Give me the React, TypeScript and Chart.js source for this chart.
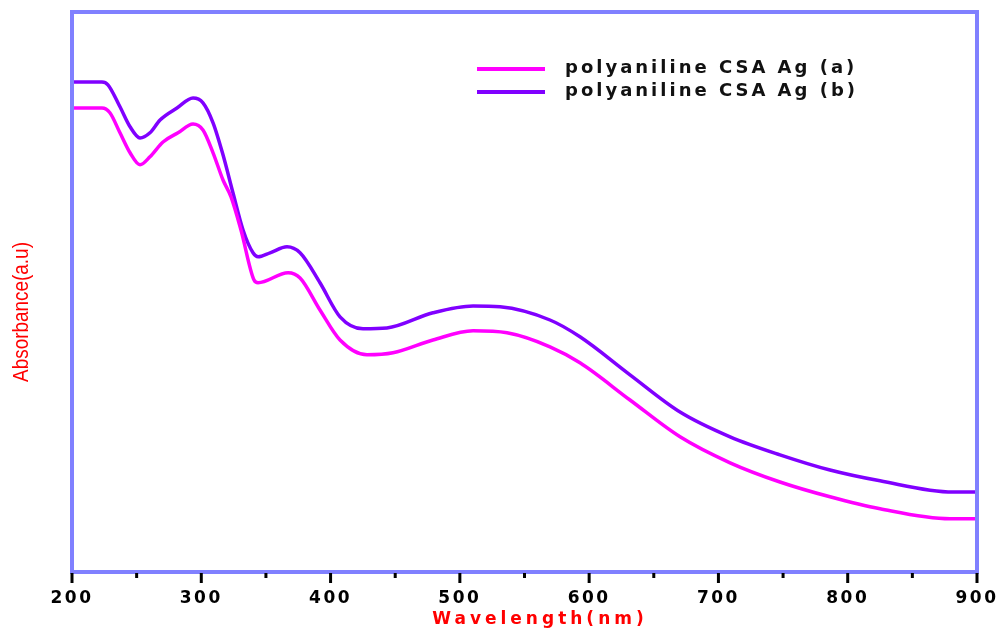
import React, { useEffect, useRef } from "react";
import { Chart, registerables } from "chart.js";

Chart.register(...registerables);

const seriesLabels = ["polyaniline CSA Ag (a)", "polyaniline CSA Ag (b)"];
const seriesColors = ["#ff00ff", "#8000ff"];

const wavelengthA = [200, 223.2, 229.3, 237.1, 244.9, 252.6, 260.3, 270.4, 282.0, 293.6, 301.3, 309.1, 316.8, 323.0, 330.7, 340.8, 343.9, 367.1, 376.4, 391.8, 407.3, 428.2, 448.3, 479.2, 510.2, 536.5, 569.7, 592.9, 631.6, 670.3, 709.0, 747.6, 786.3, 825.0, 879.1, 900];
const absorbanceA = [1.16, 1.16, 1.148, 1.098, 1.048, 1.018, 1.038, 1.075, 1.098, 1.12, 1.105, 1.048, 0.98, 0.938, 0.855, 0.73, 0.723, 0.748, 0.735, 0.655, 0.58, 0.543, 0.548, 0.58, 0.603, 0.598, 0.563, 0.523, 0.43, 0.338, 0.273, 0.225, 0.188, 0.158, 0.133, 0.133];

const wavelengthB = [200, 223.2, 227.8, 237.1, 244.9, 252.6, 260.3, 268.1, 281.2, 293.6, 301.3, 309.1, 316.8, 324.5, 332.3, 340.0, 343.9, 353.2, 366.3, 376.4, 391.8, 407.3, 425.1, 443.6, 479.2, 510.2, 531.1, 569.7, 592.9, 631.6, 670.3, 709.0, 747.6, 786.3, 825.0, 881.4, 900];
const absorbanceB = [1.225, 1.225, 1.218, 1.163, 1.113, 1.085, 1.098, 1.13, 1.16, 1.185, 1.173, 1.123, 1.043, 0.948, 0.855, 0.798, 0.788, 0.798, 0.813, 0.798, 0.723, 0.638, 0.608, 0.61, 0.648, 0.665, 0.663, 0.63, 0.588, 0.493, 0.4, 0.338, 0.293, 0.255, 0.228, 0.2, 0.2];

const xMin = 200;
const xMax = 900;
const xMajorStep = 100;
const xMinorStep = 50;
const yMin = 0;
const yMax = 1.4;

const xTitle = "Wavelength(nm)";
const yTitle = "Absorbance(a.u)";

const zip = (xs: number[], ys: number[]) => xs.map((x, i) => ({ x, y: ys[i] }));

const FRAME = "#8080ff";
const BOLD = "'DejaVu Sans', sans-serif";

const decorPlugin = {
  id: "decor",
  beforeDraw(chart: any) {
    (chart.ctx as any).letterSpacing = "2.5px";
  },
  afterDatasetsDraw(chart: any) {
    const ctx = chart.ctx;
    const a = chart.chartArea;
    const xs = chart.scales.x;
    ctx.save();
    ctx.strokeStyle = FRAME;
    ctx.lineWidth = 4;
    ctx.strokeRect(a.left, a.top, a.right - a.left, a.bottom - a.top);
    ctx.strokeStyle = "#000";
    ctx.lineWidth = 3;
    for (let v = xMin; v <= xMax; v += xMinorStep) {
      const px = xs.getPixelForValue(v);
      const major = v % xMajorStep === 0;
      ctx.beginPath();
      ctx.moveTo(px, a.bottom + 1);
      ctx.lineTo(px, a.bottom + (major ? 11 : 6));
      ctx.stroke();
    }
    ctx.restore();
  },
  afterDraw(chart: any) {
    const ctx = chart.ctx;
    ctx.save();
    (ctx as any).letterSpacing = "4px";
    ctx.fillStyle = "#ff0000";
    ctx.font = `bold 17px ${BOLD}`;
    ctx.textAlign = "center";
    ctx.textBaseline = "middle";
    ctx.fillText(xTitle, 540, 620);
    (ctx as any).letterSpacing = "0px";
    ctx.translate(22, 312);
    ctx.rotate(-Math.PI / 2);
    ctx.scale(0.86, 1);
    ctx.font = "22px 'Liberation Sans', Arial, sans-serif";
    ctx.fillText(yTitle, 0, 0);
    ctx.restore();

    ctx.save();
    chart.data.datasets.forEach((ds: any, i: number) => {
      const y = 69 + i * 23;
      ctx.strokeStyle = ds.borderColor;
      ctx.lineWidth = 4;
      ctx.beginPath();
      ctx.moveTo(477, y);
      ctx.lineTo(545, y);
      ctx.stroke();
      (ctx as any).letterSpacing = "3px";
      ctx.fillStyle = "#111";
      ctx.font = `bold 18px ${BOLD}`;
      ctx.textAlign = "left";
      ctx.textBaseline = "middle";
      ctx.fillText(ds.label, 565, y - 1);
    });
    (ctx as any).letterSpacing = "0px";
    ctx.restore();
  },
};

export default function App() {
  const ref = useRef<HTMLCanvasElement | null>(null);
  useEffect(() => {
    document.body.style.margin = "0";
    const canvas = ref.current!;
    const chart = new Chart(canvas, {
      type: "line",
      data: {
        datasets: [
          {
            label: seriesLabels[0],
            data: zip(wavelengthA, absorbanceA),
            borderColor: seriesColors[0],
            backgroundColor: seriesColors[0],
            borderWidth: 3.5,
            pointRadius: 0,
            cubicInterpolationMode: "monotone",
            fill: false,
          },
          {
            label: seriesLabels[1],
            data: zip(wavelengthB, absorbanceB),
            borderColor: seriesColors[1],
            backgroundColor: seriesColors[1],
            borderWidth: 3.5,
            pointRadius: 0,
            cubicInterpolationMode: "monotone",
            fill: false,
          },
        ],
      },
      options: {
        responsive: false,
        animation: false,
        devicePixelRatio: 1,
        layout: { padding: { left: 72, top: 12, right: 21, bottom: 0 } },
        plugins: { legend: { display: false }, tooltip: { enabled: false } },
        scales: {
          x: {
            type: "linear",
            min: xMin,
            max: xMax,
            grid: { display: false, drawTicks: false },
            border: { display: false },
            ticks: {
              stepSize: xMajorStep,
              color: "#000",
              padding: 16,
              maxRotation: 0,
              font: { family: BOLD, size: 17, weight: "bold" },
            },
            afterFit: (s: any) => {
              s.height = 60;
              s.paddingLeft = 0;
              s.paddingRight = 0;
            },
          },
          y: {
            display: false,
            min: yMin,
            max: yMax,
          },
        },
      },
      plugins: [decorPlugin],
    } as any);
    return () => chart.destroy();
  }, []);
  return (
    <div style={{ position: "absolute", left: 0, top: 0, width: 998, height: 632, background: "#fff" }}>
      <canvas ref={ref} width={998} height={632} />
    </div>
  );
}
